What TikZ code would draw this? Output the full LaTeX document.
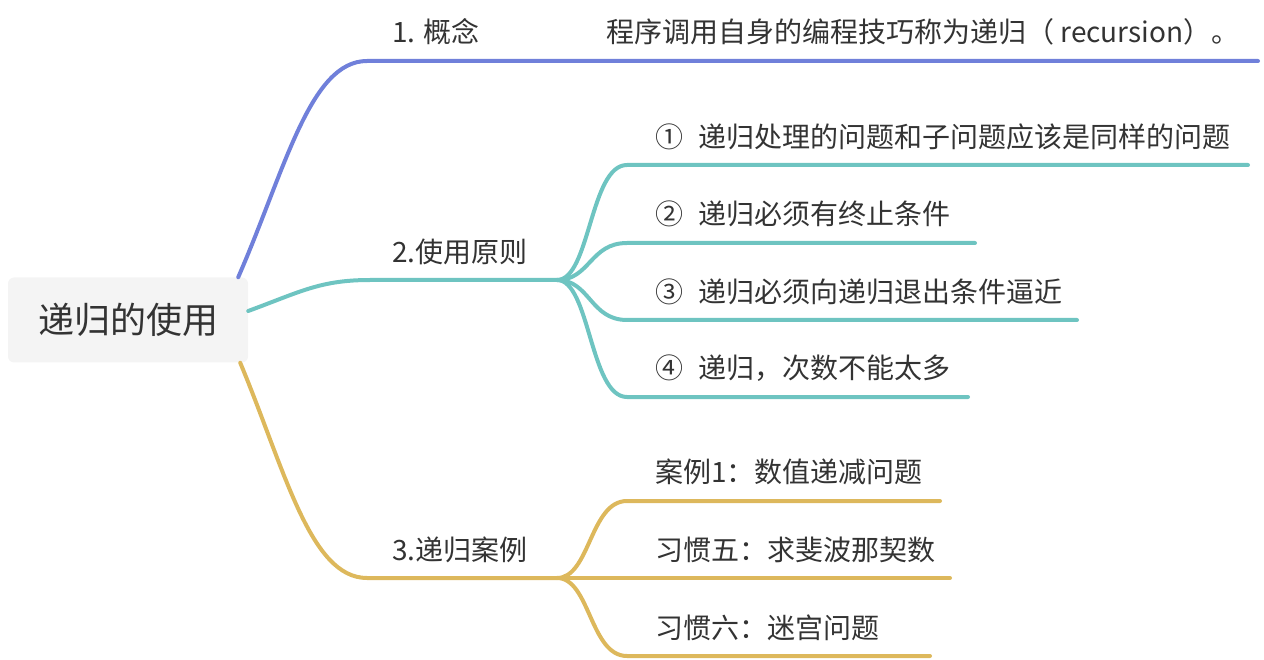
\documentclass[tikz,border=0pt]{standalone}
\usepackage{fontspec}
\setmainfont{Noto Sans CJK SC}
\definecolor{cA}{HTML}{7080DA}
\definecolor{cB}{HTML}{6EC4C1}
\definecolor{cC}{HTML}{DDB85C}
\definecolor{txt}{HTML}{333333}
\definecolor{rootfill}{HTML}{F4F4F4}
\begin{document}
\begin{tikzpicture}[x=1pt,y=-1pt,
  br/.style={line width=4pt,line cap=round},
  lbl/.style={anchor=west,inner sep=0pt,text=txt,font=\fontsize{28}{32}\selectfont},
  rootbox/.style={fill=rootfill,rounded corners=6pt,minimum width=240pt,minimum height=85pt,inner sep=0pt,text=txt,font=\fontsize{36}{40}\selectfont}]
\useasboundingbox (0,0) rectangle (1264,660);
\node[rootbox] (root) at (128,320) {递归的使用};
% junction and end coordinates
\coordinate (j1) at (367,61);  \coordinate (e1) at (1258,61);
\coordinate (j2) at (370,280); \coordinate (k2) at (557,280);
\coordinate (j3) at (367,578); \coordinate (k3) at (557,578);
\coordinate (b1) at (627,165); \coordinate (f1) at (1248,165);
\coordinate (b2) at (627,243); \coordinate (f2) at (975,243);
\coordinate (b3) at (627,320); \coordinate (f3) at (1077,320);
\coordinate (b4) at (627,397); \coordinate (f4) at (968,397);
\coordinate (c1) at (627,501); \coordinate (g1) at (940,501);
\coordinate (g2) at (950,578);
\coordinate (c3) at (627,656); \coordinate (g3) at (930,656);
% branch 1
\draw[br,cA] ([xshift=-10pt]root.north east) .. controls (285,170) and (310,61) .. (j1) -- (e1);
% branch 2
\draw[br,cB] ([yshift=9pt]root.east) .. controls (300,292) and (320,280) .. (j2) -- (k2);
\draw[br,cB] (k2) .. controls (590,280) and (590,165) .. (b1) -- (f1);
\draw[br,cB] (k2) .. controls (590,280) and (590,243) .. (b2) -- (f2);
\draw[br,cB] (k2) .. controls (590,280) and (590,320) .. (b3) -- (f3);
\draw[br,cB] (k2) .. controls (590,280) and (590,397) .. (b4) -- (f4);
% branch 3
\draw[br,cC] ([xshift=-8pt]root.south east) .. controls (285,470) and (310,578) .. (j3) -- (k3);
\draw[br,cC] (k3) .. controls (590,578) and (590,501) .. (c1) -- (g1);
\draw[br,cC] (k3) -- (g2);
\draw[br,cC] (k3) .. controls (590,578) and (590,656) .. (c3) -- (g3);
% labels
\node[lbl] (l1) at (392,32) {1. 概念};
\node[lbl] (d1) at (606,32) {程序调用自身的编程技巧称为递归（ recursion）。};
\node[lbl] (l2) at (392,252) {2.使用原则};
\node[lbl] (s21) at (655,137) {①\hspace{15pt}递归处理的问题和子问题应该是同样的问题};
\node[lbl] (s22) at (655,214) {②\hspace{15pt}递归必须有终止条件};
\node[lbl] (s23) at (655,292) {③\hspace{15pt}递归必须向递归退出条件逼近};
\node[lbl] (s24) at (655,368) {④\hspace{15pt}递归，次数不能太多};
\node[lbl] (l3) at (392,550) {3.递归案例};
\node[lbl] (s31) at (655,472) {案例1：数值递减问题};
\node[lbl] (s32) at (655,550) {习惯五：求斐波那契数};
\node[lbl] (s33) at (655,628) {习惯六：迷宫问题};
\end{tikzpicture}
\end{document}
